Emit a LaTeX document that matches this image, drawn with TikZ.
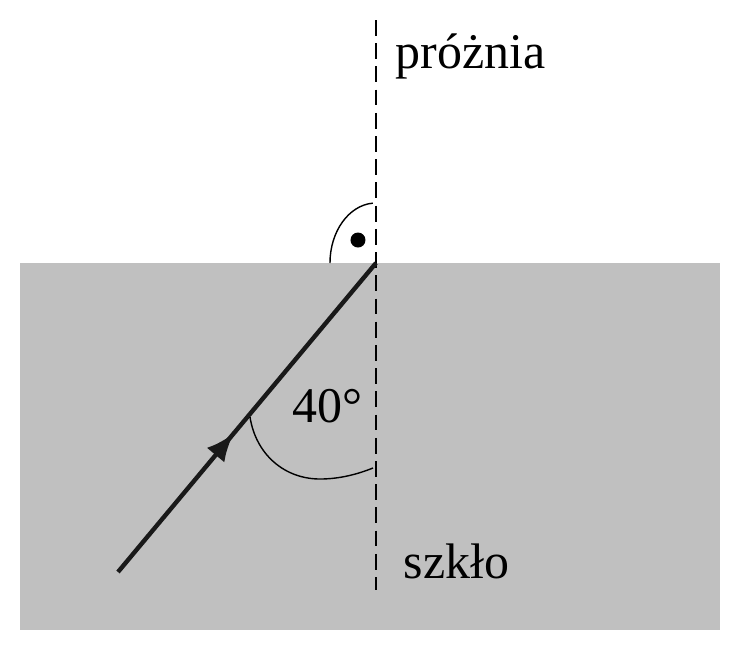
\documentclass[tikz,border=0pt]{standalone}
\usepackage{fontspec}
\setmainfont{Liberation Serif}
\usepackage{xcolor}
\definecolor{glass}{RGB}{192,192,192}
\usetikzlibrary{calc,positioning,arrows.meta,decorations.markings}
\tikzset{
  medium/.style={fill=glass,draw=none},
  normal/.style={draw=black,line width=0.7pt,dash pattern=on 4.5pt off 2.1pt},
  ray/.style={draw=black!90,line width=1.25pt,
    decoration={markings,mark=at position 0.45 with {\arrow{Latex[length=8pt,width=6.5pt]}}},
    postaction={decorate}},
  anglearc/.style={draw=black,line width=0.4pt},
  label/.style={inner sep=0pt,font=\fontsize{14.2}{16}\selectfont}
}

\begin{document}
\begin{tikzpicture}[x=0.01cm,y=-0.01cm]
    \useasboundingbox (0,0) rectangle (741,650);

    % glass block and the normal
    \path[medium] (20,263) rectangle (720,630);
    \coordinate (hit) at (376,263);
    \coordinate (ntop) at (376,20);
    \coordinate (nbot) at (376,590);
    \coordinate (src) at (118,572);
    \path[normal] (ntop) -- (nbot);

    % incident ray
    \path[ray] (src) -- (hit);

    % right angle mark
    \path[anglearc] ($(hit)+(-46,0)$) arc[start angle=180,end angle=266,x radius=46,y radius=60];
    \fill (358,240) circle[radius=7.5];

    % angle of incidence
    \coordinate (aray) at (250,417);
    \coordinate (anorm) at (373,468);
    \path[anglearc] (aray) .. controls (256,455) and (285,479) .. (320,479)
                           .. controls (340,479) and (358,474) .. (anorm);

    % labels
    \node[label,anchor=base west] (vac) at (395,68) {próżnia};
    \node[label,anchor=base west] (gl) at (403,578) {szkło};
    \node[label,anchor=base west] (ang) at (292,422) {40°};
\end{tikzpicture}
\end{document}
